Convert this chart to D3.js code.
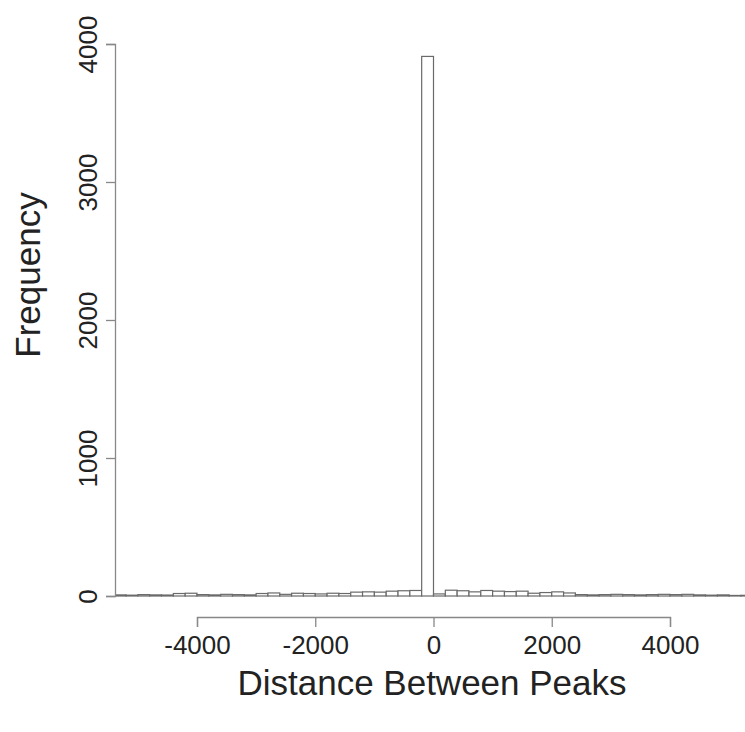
<!DOCTYPE html>
<html>
<head>
<meta charset="utf-8">
<script src="https://cdn.jsdelivr.net/npm/d3@7"></script>
<style>
  html, body { margin: 0; padding: 0; background: #fff; }
  svg { display: block; }
  text { font-family: "Liberation Sans", Arial, Helvetica, sans-serif; fill: #222; }
</style>
</head>
<body>
<script>
// Histogram bins (left edge of each bin, width 200) and counts
const binWidth = 200;
const binStarts = [-5400,-5200,-5000,-4800,-4600,-4400,-4200,-4000,-3800,-3600,-3400,-3200,-3000,-2800,-2600,-2400,-2200,-2000,-1800,-1600,-1400,-1200,-1000,-800,-600,-400,-200,
                   0,200,400,600,800,1000,1200,1400,1600,1800,2000,2200,2400,2600,2800,3000,3200,3400,3600,3800,4000,4200,4400,4600,4800,5000,5200];
const counts = [8,6,10,8,7,18,20,10,8,12,10,8,18,22,12,20,18,15,20,18,28,30,28,35,38,40,3910,
                15,42,38,30,40,35,32,35,20,25,30,22,10,8,10,12,10,8,10,12,10,12,8,6,8,4,5];
const xTicks = [-4000,-2000,0,2000,4000];
const yTicks = [0,1000,2000,3000,4000];
const xTitle = "Distance Between Peaks";
const yTitle = "Frequency";

const W = 745, H = 732;
const svg = d3.select("body").append("svg").attr("width", W).attr("height", H);

const x = d3.scaleLinear().domain([-4000, 4000]).range([197, 670]);
const y = d3.scaleLinear().domain([0, 4000]).range([596, 44]);

const plotLeft = 115;
svg.append("defs").append("clipPath").attr("id", "clip")
  .append("rect").attr("x", plotLeft).attr("y", 0).attr("width", W - plotLeft).attr("height", H);

const bins = binStarts.map((s, i) => ({x0: s, x1: s + binWidth, n: counts[i]}));

svg.append("g").attr("clip-path", "url(#clip)")
  .selectAll("rect").data(bins).join("rect")
  .attr("x", d => x(d.x0))
  .attr("y", d => y(d.n))
  .attr("width", d => x(d.x1) - x(d.x0))
  .attr("height", d => y(0) - y(d.n))
  .attr("fill", "#fff")
  .attr("stroke", "#6a6a6a")
  .attr("stroke-width", 1.2);

const fmt = d => String(d);

// X axis
const xAxis = svg.append("g").attr("transform", "translate(0,617)")
  .call(d3.axisBottom(x).tickValues(xTicks).tickSize(10).tickPadding(9).tickFormat(fmt));
xAxis.select(".domain").attr("stroke", "#888").attr("stroke-width", 1.3);
xAxis.selectAll(".tick line").attr("stroke", "#888").attr("stroke-width", 1.3);
xAxis.selectAll(".tick text").attr("font-size", 26).attr("fill", "#222")
  .attr("font-family", "Liberation Sans, Arial, sans-serif").attr("dy", "0.71em");

// Y axis
const yAxis = svg.append("g").attr("transform", `translate(${plotLeft},0)`)
  .call(d3.axisLeft(y).tickValues(yTicks).tickSize(9).tickPadding(0).tickFormat(fmt));
yAxis.select(".domain").attr("stroke", "#888").attr("stroke-width", 1.3);
yAxis.selectAll(".tick line").attr("stroke", "#888").attr("stroke-width", 1.3);
yAxis.selectAll(".tick text").remove();
yAxis.selectAll(".tick").append("text")
  .attr("transform", "translate(-18,0) rotate(-90)")
  .attr("text-anchor", "middle")
  .attr("font-size", 26)
  .attr("fill", "#222")
  .text(d => fmt(d));

// Titles
svg.append("text")
  .attr("x", 432).attr("y", 695)
  .attr("text-anchor", "middle")
  .attr("font-size", 35)
  .text(xTitle);

svg.append("text")
  .attr("transform", "translate(40,275) rotate(-90)")
  .attr("text-anchor", "middle")
  .attr("font-size", 35)
  .text(yTitle);
</script>
</body>
</html>
